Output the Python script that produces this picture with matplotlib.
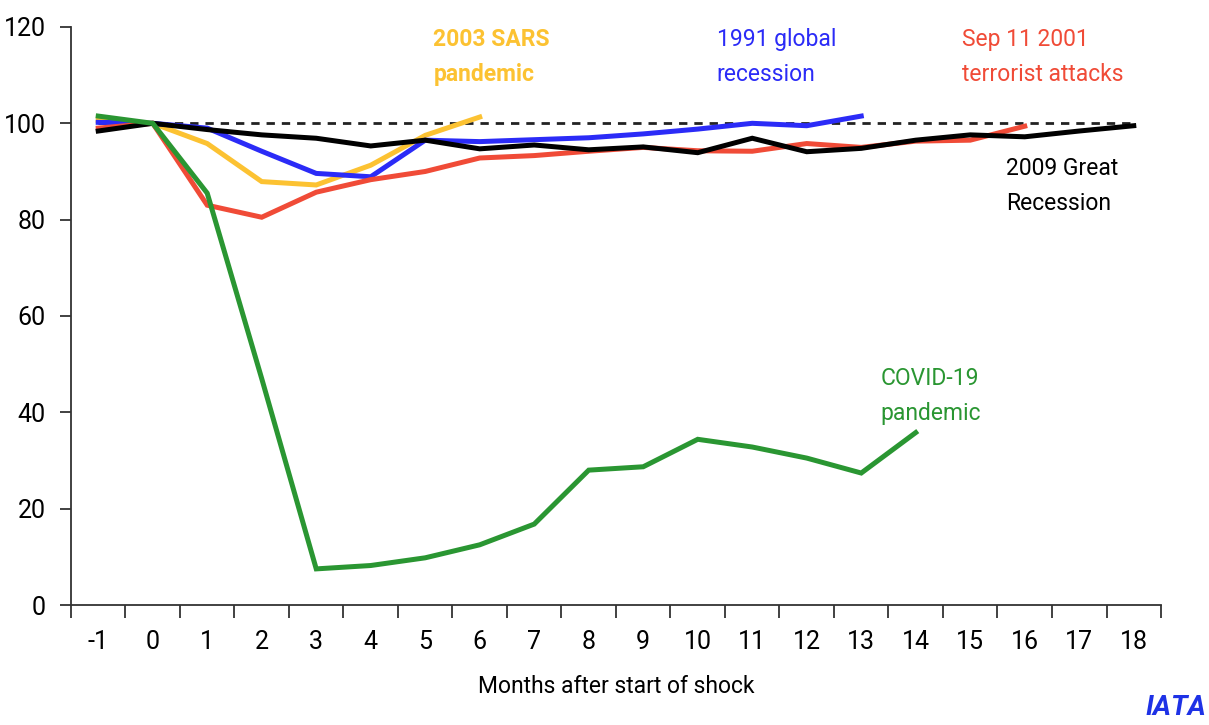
import numpy as np
import matplotlib.pyplot as plt

# months after the start of each shock
months = list(range(-1, 19))

# passenger traffic index, month 0 = 100
covid = [101.5, 100, 85.5, 47, 7.5, 8.2, 9.8, 12.5, 16.8, 28, 28.7, 34.4, 32.8, 30.5, 27.4, 35.8]
sep11 = [99, 100, 83, 80.5, 85.7, 88.3, 90, 92.8, 93.3, 94.2, 95, 94.3, 94.2, 95.8, 95, 96.3, 96.5, 99.4]
recession_1991 = [100.2, 100, 99, 94.2, 89.6, 88.9, 96.5, 96.2, 96.6, 97, 97.8, 98.8, 100, 99.5, 101.5]
sars = [100.6, 100, 95.8, 87.9, 87.2, 91.3, 97.5, 101.3]
gfc_2009 = [98.4, 100, 98.7, 97.6, 96.9, 95.3, 96.5, 94.7, 95.5, 94.5, 95.1, 93.9, 96.9, 94.1, 94.8, 96.5, 97.6, 97.2, 98.4, 99.5]

series = [
    (sars, '#FCC232'),
    (recession_1991, '#2B2BF7'),
    (sep11, '#F04B37'),
    (gfc_2009, '#000000'),
    (covid, '#2A9632'),
]

plt.rcParams['font.family'] = ['Roboto', 'DejaVu Sans']
plt.rcParams['axes.unicode_minus'] = False

fig = plt.figure(figsize=(12.09, 7.25), dpi=100)
ax = fig.add_axes([0.0587, 0.1655, 0.9016, 0.7973])

ax.plot(months, [100] * len(months), color='#222222', lw=2, ls=(0, (3, 2.5)), zorder=1)
for values, color in series:
    ax.plot(months[:len(values)], values, color=color, lw=3.6, solid_joinstyle='miter', zorder=2)

ax.set_xlim(-1.5, 18.5)
ax.set_ylim(0, 120)
ax.set_yticks(range(0, 121, 20))
ax.set_xticks(months)
ax.set_xticks(np.arange(-1.5, 18.6, 1), minor=True)
ax.tick_params(axis='x', which='major', length=0, pad=18, labelsize=18)
ax.tick_params(axis='x', which='minor', length=9, width=1.3, color='#333333')
ax.tick_params(axis='y', length=8, width=1.3, color='#333333', labelsize=18, pad=10)
ax.spines['top'].set_visible(False)
ax.spines['right'].set_visible(False)
for s in ('left', 'bottom'):
    ax.spines[s].set_linewidth(1.3)
    ax.spines[s].set_color('#333333')
ax.set_xlabel('Months after start of shock', fontsize=16.5, labelpad=15)

# series labels
label_kw = dict(fontsize=16.5, ha='left', va='center', linespacing=1.65)
ax.text(5.15, 113.8, '2003 SARS\npandemic', color='#FCC232', fontweight='bold', **label_kw)
ax.text(10.35, 113.8, '1991 global\nrecession', color='#2B2BF7', **label_kw)
ax.text(14.85, 113.8, 'Sep 11 2001\nterrorist attacks', color='#F04B37', **label_kw)
ax.text(15.65, 87, '2009 Great\nRecession', color='#000000', **label_kw)
ax.text(13.35, 43.4, 'COVID-19\npandemic', color='#2A9632', **label_kw)

# corner logo text
fig.text(0.998, 0.005, 'IATA', color='#1E32E6', fontsize=20, fontweight='bold',
         fontstyle='italic', ha='right', va='bottom')

fig.savefig('out.png', dpi=100)
